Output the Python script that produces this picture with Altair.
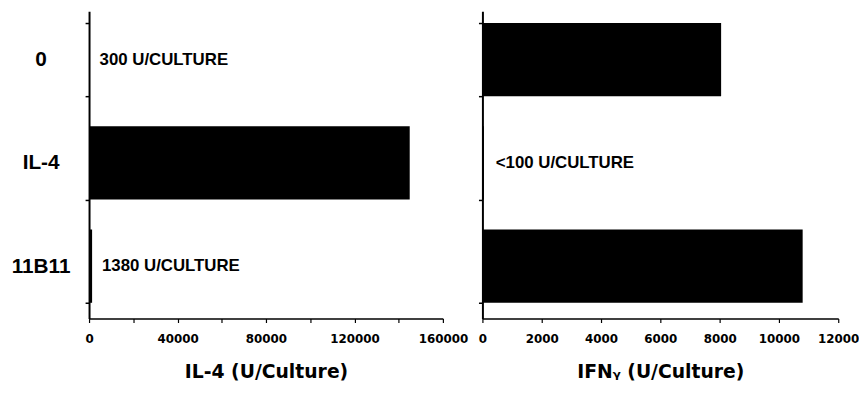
import altair as alt
import pandas as pd

categories = ["0", "IL-4", "11B11"]
il4_values = [300, 145000, 1380]
il4_labels = ["300 U/CULTURE", "", "1380 U/CULTURE"]
ifng_values = [8050, 50, 10800]
ifng_labels = ["", "<100 U/CULTURE", ""]
il4_ticks = list(range(0, 160001, 20000))
ifng_ticks = list(range(0, 12001, 1000))

df_il4 = pd.DataFrame({"cat": categories, "value": il4_values, "label": il4_labels})
df_ifng = pd.DataFrame({"cat": categories, "value": ifng_values, "label": ifng_labels})

TICK_FONT = "DejaVu Sans"
CAT_FONT = "Liberation Sans"

yscale = alt.Scale(domain=categories, paddingInner=0.29, paddingOuter=0.134, align=0.43)


def panel(df, domain_max, ticks, label_step, title, show_labels, width, dx):
    y_axis = alt.Axis(
        title=None,
        labels=show_labels,
        labelFont=CAT_FONT,
        labelFontSize=21,
        labelFontWeight="bold",
        labelColor="black",
        labelAlign="center",
        labelPadding=45,
        tickBand="extent",
        tickSize=4,
        tickColor="black",
        tickWidth=1.5,
        domainColor="black",
        domainWidth=2,
        grid=False,
    )
    x_axis = alt.Axis(
        title=title,
        values=ticks,
        format="d",
        labelExpr=f"datum.value % {label_step} == 0 ? datum.label : ''",
        labelFont=TICK_FONT,
        labelFontSize=12,
        labelFontWeight="bold",
        labelColor="black",
        labelPadding=11,
        labelOverlap=False,
        labelFlush=False,
        tickSize=4,
        tickColor="black",
        tickWidth=1.2,
        domainColor="black",
        domainWidth=1.5,
        titleFont=TICK_FONT,
        titleFontSize=19,
        titleFontWeight="bold",
        titleColor="black",
        titlePadding=19,
        grid=False,
    )
    xscale = alt.Scale(domain=[0, domain_max], nice=False, zero=True)
    base = alt.Chart(df)
    bars = base.mark_bar(color="black").encode(
        x=alt.X("value:Q", scale=xscale, axis=x_axis),
        y=alt.Y("cat:N", scale=yscale, axis=y_axis, sort=categories),
    )
    text = base.transform_filter("datum.label != ''").mark_text(
        align="left",
        baseline="middle",
        dx=dx,
        font=CAT_FONT,
        fontSize=17,
        fontWeight="bold",
        color="black",
    ).encode(
        x=alt.X("value:Q", scale=xscale),
        y=alt.Y("cat:N", scale=yscale, sort=categories),
        text="label:N",
    )
    return alt.layer(bars, text).properties(width=width, height=311)


left = panel(df_il4, 160000, il4_ticks, 40000, "IL-4 (U/Culture)", True, 358, 10)
right = panel(df_ifng, 12000, ifng_ticks, 2000, "IFNᵧ (U/Culture)", False, 360, 12)

chart = (
    alt.hconcat(left, right, spacing=40, bounds="flush")
    .resolve_scale(x="independent", y="shared")
    .properties(padding={"left": 3, "top": -10, "right": 0, "bottom": 0}, background="white")
    .configure_view(stroke=None)
)

chart.save("out.html", embed_options={"renderer": "svg", "actions": False})
